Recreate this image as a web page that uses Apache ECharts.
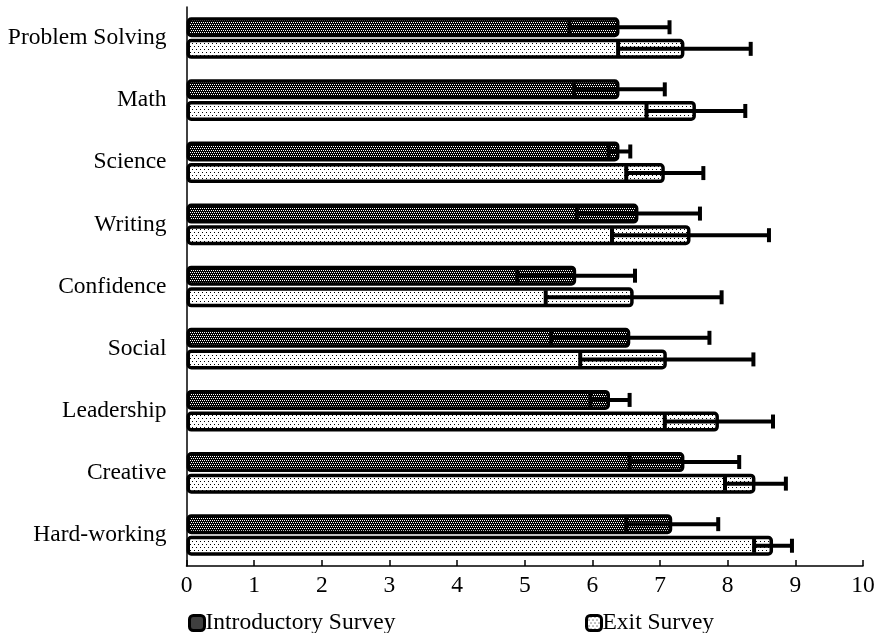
<!DOCTYPE html>
<html>
<head>
<meta charset="utf-8">
<script src="https://cdn.jsdelivr.net/npm/echarts@6/dist/echarts.min.js"></script>
<style>html,body{margin:0;padding:0;background:#fff}#c{width:880px;height:633px}</style>
</head>
<body>
<div id="c"></div>
<script>
const categories = ['Problem Solving','Math','Science','Writing','Confidence','Social','Leadership','Creative','Hard-working'];
const introValues = [6.40, 6.40, 6.40, 6.68, 5.76, 6.56, 6.26, 7.36, 7.18];
const introErrors = [0.74, 0.67, 0.16, 0.91, 0.87, 1.17, 0.29, 0.81, 0.68];
const exitValues  = [7.36, 7.53, 7.07, 7.45, 6.61, 7.10, 7.87, 8.41, 8.67];
const exitErrors  = [0.98, 0.73, 0.57, 1.16, 1.30, 1.28, 0.80, 0.45, 0.28];
const xMin = 0, xMax = 10, xInterval = 1;
const seriesNames = ['Introductory Survey', 'Exit Survey'];

function makePattern(w, h, bg, fg, dots) {
  const cv = document.createElement('canvas');
  cv.width = w; cv.height = h;
  const ctx = cv.getContext('2d');
  ctx.fillStyle = bg; ctx.fillRect(0, 0, w, h);
  ctx.fillStyle = fg;
  dots.forEach(d => ctx.fillRect(d[0], d[1], 1, 1));
  return cv;
}
const introPat = makePattern(4, 4, '#000', '#fff', [[0,0],[2,0],[1,2],[3,2]]);
const exitPat = makePattern(4, 6, '#fff', '#000', [[0,1],[2,4]]);

const BAR_W = 20;
const OFFSETS = [-10.8, 10.8];

function errRender(offset) {
  return function (params, api) {
    const cat = api.value(0), v = api.value(1), e = api.value(2);
    const c = api.coord([v, cat]);
    const y = c[1] + offset;
    const lo = api.coord([v - e, cat])[0];
    const hi = api.coord([v + e, cat])[0];
    const st = { stroke: '#000', lineWidth: 4 };
    return {
      type: 'group',
      children: [
        { type: 'line', shape: { x1: lo, y1: y, x2: hi, y2: y }, style: st },
        { type: 'line', shape: { x1: hi, y1: y - 7, x2: hi, y2: y + 7 }, style: st },
        { type: 'line', shape: { x1: lo, y1: y - 7, x2: lo, y2: y + 7 }, style: st }
      ]
    };
  };
}

const font = 'Liberation Serif';
const FS = 23.5;
const chart = echarts.init(document.getElementById('c'));
chart.setOption({
  animation: false,
  backgroundColor: '#fff',
  grid: { left: 186.5, right: 17, top: 7, bottom: 67, containLabel: false },
  legend: [
    { data: [seriesNames[0]], left: 183, top: 606, itemWidth: 15, itemHeight: 15, itemGap: 0,
      itemStyle: { borderWidth: 3 },
      textStyle: { fontFamily: font, fontSize: FS, color: '#000', padding: [0,0,0,-4] } },
    { data: [seriesNames[1]], left: 580, top: 606, itemWidth: 15, itemHeight: 15, itemGap: 0,
      itemStyle: { borderWidth: 3 },
      textStyle: { fontFamily: font, fontSize: FS, color: '#000', padding: [0,0,0,-4] } }
  ],
  xAxis: {
    type: 'value', min: xMin, max: xMax, interval: xInterval,
    axisLine: { show: true, lineStyle: { color: '#000', width: 1.5 } },
    axisTick: { show: true, inside: true, length: 6, lineStyle: { color: '#000', width: 1.5 } },
    splitLine: { show: false },
    axisLabel: { fontFamily: font, fontSize: FS, color: '#000', margin: 8 }
  },
  yAxis: {
    type: 'category', data: categories, inverse: true,
    axisLine: { show: true, lineStyle: { color: '#000', width: 1.5 } },
    axisTick: { show: false },
    axisLabel: { fontFamily: font, fontSize: FS, color: '#000', margin: 20 }
  },
  series: [
    { name: seriesNames[0], type: 'bar', data: introValues, barWidth: BAR_W, barGap: '8%',
      itemStyle: { color: { image: introPat, repeat: 'repeat' }, borderColor: '#000', borderWidth: 3.5, borderRadius: 3 } },
    { name: seriesNames[1], type: 'bar', data: exitValues, barWidth: BAR_W, barGap: '8%',
      itemStyle: { color: { image: exitPat, repeat: 'repeat' }, borderColor: '#000', borderWidth: 3.5, borderRadius: 3 } },
    { type: 'custom', renderItem: errRender(OFFSETS[0]), encode: { x: 1, y: 0 }, z: 5,
      data: introValues.map((v, i) => [i, v, introErrors[i]]) },
    { type: 'custom', renderItem: errRender(OFFSETS[1]), encode: { x: 1, y: 0 }, z: 5,
      data: exitValues.map((v, i) => [i, v, exitErrors[i]]) }
  ]
});
</script>
</body>
</html>
